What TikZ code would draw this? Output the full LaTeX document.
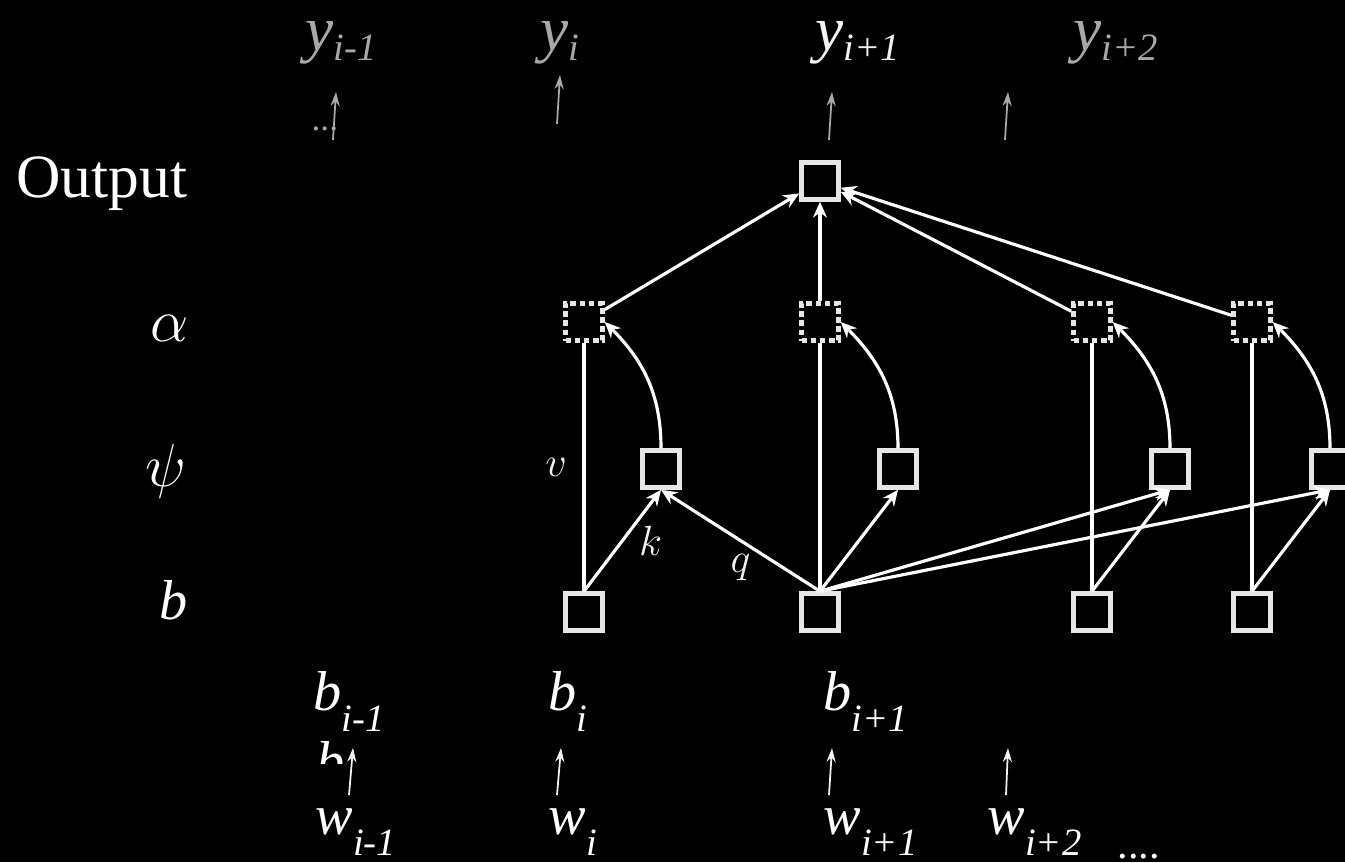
\documentclass[tikz,border=0pt]{standalone}
\usepackage{fontspec}
\setmainfont{Liberation Serif}
\usepackage{xcolor}
\definecolor{ATgray}{HTML}{A8A8A8}
\definecolor{ATbox}{HTML}{E6E6E6}
\definecolor{ATlight}{HTML}{F2F2F2}
\usepackage{tikz}
\usetikzlibrary{positioning,arrows.meta}

% letter with a lowered index, as on the slide
\newcommand{\idx}[3][6pt]{\textit{#2}\raisebox{-#1}{\fontsize{11}{11}\selectfont\textit{#3}}}

\begin{document}
\begin{tikzpicture}[
  on grid,
  box/.style={draw=ATbox, line width=1.3pt, fill=black, minimum size=0.37cm, inner sep=0pt},
  dbox/.style={box, dash pattern=on 1.6pt off 1pt},
  arr/.style={-{Stealth[length=4.5pt,width=4pt]}, line width=0.9pt, draw=white},
  link/.style={line width=0.9pt, draw=white},
  tip/.style={-{Stealth[length=4pt,width=2.6pt]}, line width=0.5pt},
  word/.style={anchor=base west, inner sep=0pt, font=\fontsize{16}{16}\selectfont},
  side/.style={anchor=east, inner sep=0pt, text=white},
  small/.style={inner sep=0pt, text=ATlight, font=\fontsize{13}{13}\selectfont}
]
\fill[black] (0,0) rectangle (13.45,-8.62);
\useasboundingbox (0,0) rectangle (13.45,-8.62);

% layer names
\node[side, anchor=base east, font=\fontsize{17.5}{17.5}\selectfont] (lout) at (1.88,-1.97) {Output};
\node[side, font=\fontsize{17}{17}\selectfont] (lalpha) at (1.89,-3.28) {$\alpha$};
\node[side, font=\fontsize{17}{17}\selectfont] (lpsi) at (1.87,-4.71) {$\psi$};
\node[side, font=\fontsize{16}{16}\selectfont] (lb) at (1.88,-6.00) {\textit{b}};

% nodes
\node[box] (h1) at (5.84,-6.12) {};
\node[box, right=2.36cm of h1] (h2) {};
\node[box, right=2.72cm of h2] (h3) {};
\node[box, right=1.60cm of h3] (h4) {};
\node[box, above right=1.43cm and 0.77cm of h1] (p1) {};
\node[box, above right=1.43cm and 0.78cm of h2] (p2) {};
\node[box, above right=1.43cm and 0.78cm of h3] (p3) {};
\node[box, above right=1.43cm and 0.78cm of h4] (p4) {};
\node[dbox, above=2.90cm of h1] (a1) {};
\node[dbox, above=2.90cm of h2] (a2) {};
\node[dbox, above=2.90cm of h3] (a3) {};
\node[dbox, above=2.90cm of h4] (a4) {};
\node[box, above=1.41cm of a2] (out) {};

% connections
\foreach \i in {1,...,4} {
  \draw[link] (h\i) -- (a\i);
  \draw[arr] (p\i.north) to[out=90, in=-45] (a\i.east);
  \draw[arr] (a\i) -- (out);
}
\draw[arr] (h1.north) -- node[small, pos=0.5, xshift=0.28cm] (lk) {$k$} (p1.south);
\draw[arr] (h2.north) -- node[small, pos=0.5, yshift=-0.27cm] (lq) {$q$} (p1.south);
\draw[arr] (h2.north) -- (p2.south);
\draw[arr] (h2.north) -- (p3.south);
\draw[arr] (h2.north) -- (p4.south);
\draw[arr] (h3.north) -- (p3.south);
\draw[arr] (h4.north) -- (p4.south);
\node[small] (lv) at (5.56,-4.67) {$v$};

% outputs on top
\node[word, text=ATgray, font=\fontsize{18}{18}\selectfont] (y1) at (3.05,-0.50) {\idx[3pt]{y}{i-1}};
\node[word, text=ATgray, font=\fontsize{18}{18}\selectfont] (y2) at (5.40,-0.50) {\idx[3pt]{y}{i}};
\node[word, text=ATlight, font=\fontsize{18}{18}\selectfont] (y3) at (8.15,-0.50) {\idx[3pt]{y}{i+1}};
\node[word, text=ATgray, font=\fontsize{18}{18}\selectfont] (y4) at (10.73,-0.50) {\idx[3pt]{y}{i+2}};
\node[word, text=ATgray, font=\fontsize{10}{10}\selectfont] (dots1) at (3.11,-1.30) {...};
\coordinate (ty1a) at (3.33,-1.40); \coordinate (ty1b) at (3.36,-0.92);
\coordinate (ty2a) at (5.57,-1.24); \coordinate (ty2b) at (5.60,-0.75);
\coordinate (ty3a) at (8.29,-1.40); \coordinate (ty3b) at (8.32,-0.92);
\coordinate (ty4a) at (10.05,-1.40); \coordinate (ty4b) at (10.08,-0.92);
\foreach \i in {1,...,4}
  \draw[tip, draw=ATgray] (ty\i a) -- (ty\i b);

% inputs at the bottom
\node[word, text=white] (b1) at (3.13,-7.10) {\idx{b}{i-1}};
\node[word, text=white] (b2) at (5.48,-7.10) {\idx{b}{i}};
\node[word, text=white] (b3) at (8.23,-7.10) {\idx{b}{i+1}};
\begin{scope}
  \clip (3.05,-7.38) rectangle (3.48,-7.63);
  \node[word, text=white] (bcut) at (3.16,-7.80) {\textit{b}};
\end{scope}
\node[word, text=white] (w1) at (3.15,-8.34) {\idx[6pt]{w}{i-1}};
\node[word, text=white] (w2) at (5.48,-8.34) {\idx[6pt]{w}{i}};
\node[word, text=white] (w3) at (8.23,-8.34) {\idx[6pt]{w}{i+1}};
\node[word, text=white] (w4) at (9.87,-8.34) {\idx[6pt]{w}{i+2}};
\node[word, text=white, font=\fontsize{12}{12}\selectfont] (dots2) at (11.17,-8.58) {....};
\coordinate (tb1a) at (3.49,-7.95); \coordinate (tb1b) at (3.53,-7.48);
\coordinate (tb2a) at (5.57,-7.95); \coordinate (tb2b) at (5.61,-7.48);
\coordinate (tb3a) at (8.29,-7.95); \coordinate (tb3b) at (8.32,-7.48);
\coordinate (tb4a) at (10.06,-7.95); \coordinate (tb4b) at (10.08,-7.48);
\foreach \i in {1,...,4}
  \draw[tip, draw=ATlight] (tb\i a) -- (tb\i b);
\end{tikzpicture}
\end{document}
